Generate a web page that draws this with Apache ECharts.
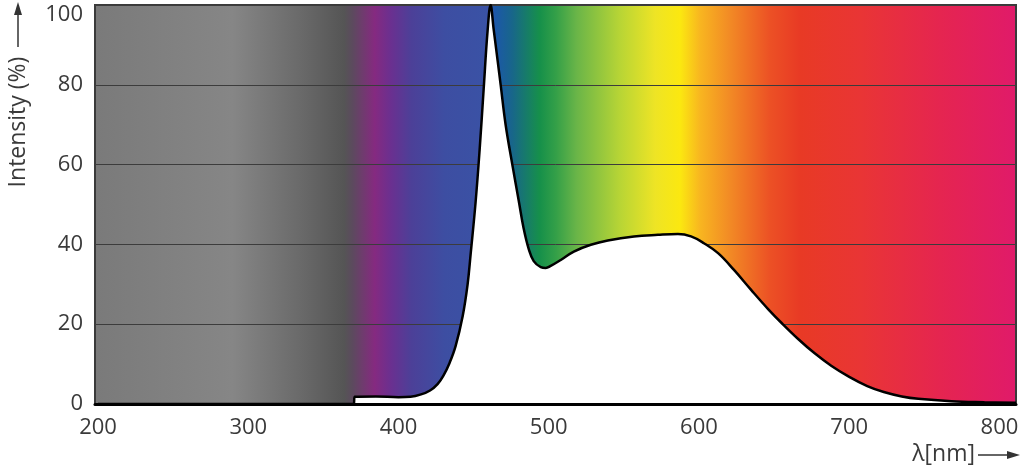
<!DOCTYPE html>
<html>
<head>
<meta charset="utf-8">
<script src="https://cdn.jsdelivr.net/npm/echarts@6/dist/echarts.min.js"></script>
<style>
  html, body { margin: 0; padding: 0; background: #fff; }
  #chart { width: 1024px; height: 469px; }
</style>
</head>
<body>
<div id="chart"></div>
<script>
// wavelength (nm) and relative intensity (%)
var wavelength = [200, 370, 371, 385, 400, 408, 415, 421, 426, 430, 434, 438, 442.7, 446, 448, 451.3, 454, 456.7, 459.3, 461.3,
    463.3, 466, 468, 471.3, 476, 480, 483.3, 486.7, 490, 494.7, 498, 501.3, 508, 516.7, 528, 539.3, 556.7, 572.7, 586, 594.7,
    603.3, 612.7, 623.3, 634.7, 646, 655, 666, 677, 688, 700, 712, 723, 735, 746, 768, 790, 811];
var intensity = [0, 0, 1.8, 1.9, 1.7, 1.8, 2.4, 3.4, 5.0, 7.2, 10.3, 14.5, 22, 30, 37.5, 50.5, 63.7, 79, 93.5, 100,
    94, 86, 80, 70, 59.5, 51, 44, 38.8, 35.8, 34.3, 34.1, 34.6, 36.1, 38.2, 39.9, 41.0, 42.0, 42.4, 42.6, 42.0,
    40.3, 37.8, 33.6, 28.6, 23.8, 20.3, 16.3, 12.7, 9.6, 6.8, 4.5, 3.0, 1.9, 1.3, 0.7, 0.45, 0.3];
var xTicks = [200, 300, 400, 500, 600, 700, 800];
var yTicks = [0, 20, 40, 60, 80, 100];

var points = [];
for (var i = 0; i < wavelength.length; i++)
    points.push([wavelength[i], intensity[i]]);

// spectrum colours behind the curve
var spectrum = new echarts.graphic.LinearGradient(0, 0, 1, 0, [
    {offset: 0, color: '#7a7a7a'},
    {offset: 0.150, color: '#868686'},
    {offset: 0.223, color: '#6a6a6a'},
    {offset: 0.271, color: '#555555'},
    {offset: 0.280, color: '#5c4a5e'},
    {offset: 0.304, color: '#852a80'},
    {offset: 0.322, color: '#6a3090'},
    {offset: 0.344, color: '#4c4098'},
    {offset: 0.380, color: '#3d4ea2'},
    {offset: 0.427, color: '#3a52a5'},
    {offset: 0.435, color: '#1c58a8'},
    {offset: 0.453, color: '#18668a'},
    {offset: 0.483, color: '#16904a'},
    {offset: 0.501, color: '#35a048'},
    {offset: 0.523, color: '#6ab548'},
    {offset: 0.570, color: '#b8d535'},
    {offset: 0.608, color: '#eee425'},
    {offset: 0.635, color: '#fbe810'},
    {offset: 0.657, color: '#f8b520'},
    {offset: 0.689, color: '#f28a25'},
    {offset: 0.733, color: '#ec5025'},
    {offset: 0.765, color: '#e83a25'},
    {offset: 0.831, color: '#e93535'},
    {offset: 0.917, color: '#e52550'},
    {offset: 1, color: '#e01a6a'}
]);

var font = '"Open Sans", "Noto Sans", sans-serif';
var chart = echarts.init(document.getElementById('chart'));
var option = {
    animation: false,
    grid: {
        show: true,
        left: 95, right: 8, top: 5, bottom: 65,
        outerBoundsMode: 'none',
        containLabel: false,
        backgroundColor: spectrum,
        borderColor: '#3a3a3a',
        borderWidth: 2
    },
    xAxis: {
        type: 'value',
        min: 198,
        max: 811,
        z: 5,
        axisLine: {lineStyle: {color: '#000', width: 3}},
        axisTick: {show: false},
        splitLine: {show: false},
        axisLabel: {
            margin: 13,
            fontSize: 22,
            fontFamily: font,
            color: '#3a3a3a',
            formatter: function (v) {
                return xTicks.indexOf(v) >= 0 ? String(v) : '';
            }
        }
    },
    yAxis: {
        type: 'value',
        min: yTicks[0],
        max: yTicks[yTicks.length - 1],
        interval: 20,
        axisLine: {show: false},
        axisTick: {show: false},
        splitLine: {lineStyle: {color: '#3c3c3c', width: 1}},
        axisLabel: {
            margin: 12, fontSize: 22, fontFamily: font, color: '#3a3a3a',
            formatter: function (v) {
                // top label sits a little lower, inside the page
                return v === 100 ? '{top|100}' : String(v);
            },
            rich: {
                top: {fontSize: 22, fontFamily: font, color: '#3a3a3a', padding: [20, 0, 0, 0]}
            }
        }
    },
    series: [{
        type: 'line',
        data: points,
        symbol: 'none',
        smooth: 0.4,
        lineStyle: {color: '#000', width: 2.5},
        areaStyle: {color: '#fff', opacity: 1}
    }],
    graphic: [
        {
            type: 'text', x: 18, y: 122, rotation: Math.PI / 2,
            style: {text: 'Intensity (%)', font: '23px ' + font, fill: '#3a3a3a', align: 'center', verticalAlign: 'middle'}
        },
        {type: 'line', shape: {x1: 18, y1: 47, x2: 18, y2: 10}, style: {stroke: '#333', lineWidth: 1.5}},
        {type: 'polygon', shape: {points: [[14, 15], [22, 15], [18, 2]]}, style: {fill: '#333'}},
        {
            type: 'text', x: 975, y: 454,
            style: {text: 'λ[nm]', font: '23px ' + font, fill: '#3a3a3a', align: 'right', verticalAlign: 'middle'}
        },
        {type: 'line', shape: {x1: 978, y1: 455, x2: 1012, y2: 455}, style: {stroke: '#333', lineWidth: 1.5}},
        {type: 'polygon', shape: {points: [[1007, 451], [1007, 459], [1020, 455]]}, style: {fill: '#333'}}
    ]
};
chart.setOption(option);
</script>
</body>
</html>
